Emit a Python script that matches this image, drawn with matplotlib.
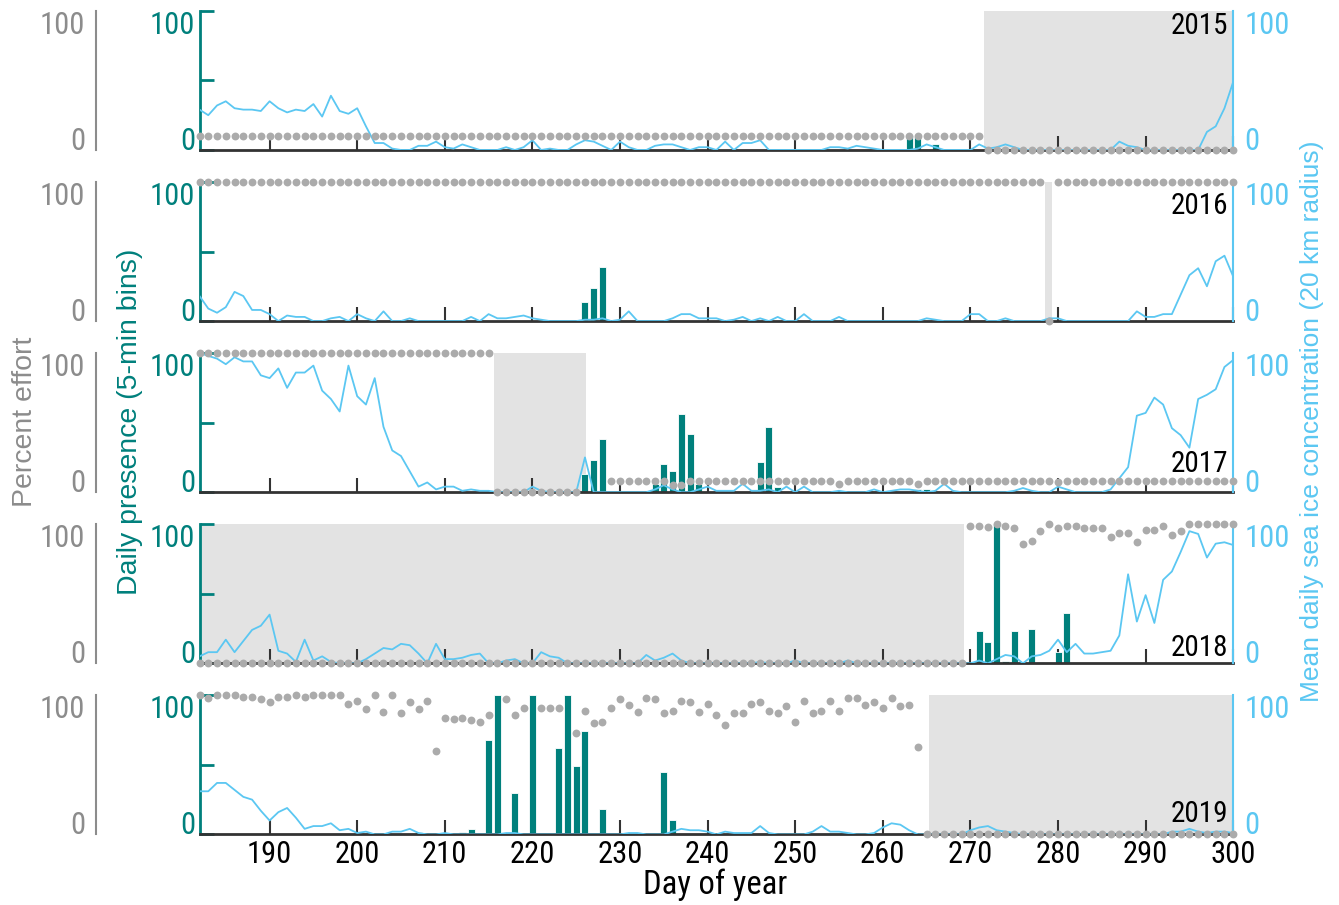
import numpy as np
import matplotlib
matplotlib.use("Agg")
import matplotlib.pyplot as plt
from matplotlib import font_manager

nan = np.nan

# ---------------------------------------------------------------
# dados (dia do ano 182..300)
# ---------------------------------------------------------------
DAYS = np.arange(182, 301)
YEARS = [2015, 2016, 2017, 2018, 2019]

ice_2015 = [29, 25, 32, 35, 30, 29, 29, 28, 35, 30,
            27, 29, 28, 33, 24, 39, 28, 26, 30, 17,
            5, 5, 1, 0, 0, 3, 3, 6, 2, 1,
            4, 2, 0, 0, 0, 2, 0, 2, 7, 0,
            1, 0, 0, 4, 7, 6, 3, 0, 6, 2,
            0, 0, 3, 4, 4, 2, 0, 2, 2, 0,
            6, 0, 5, 5, 7, 0, 0, 0, 0, 0,
            0, 0, 2, 2, 1, 3, 2, 1, 0, 0,
            0, 0, 1, 4, 2, 0, 0, 0, 0, 4,
            1, 2, 4, 2, 0, 0, 0, 0, 0, 0,
            0, 0, 0, 0, 0, 6, 3, 2, 0, 0,
            0, 0, 0, 0, 0, 13, 17, 30, 49]

ice_2016 = [18, 9, 6, 10, 21, 18, 8, 8, 5, 0,
            4, 3, 3, 0, 0, 2, 3, 0, 5, 2,
            0, 7, 0, 0, 2, 0, 0, 0, 0, 0,
            0, 3, 0, 5, 2, 2, 3, 4, 2, 1,
            0, 0, 0, 0, 1, 1, 2, 0, 1, 7,
            0, 0, 0, 0, 2, 5, 5, 2, 2, 2,
            0, 1, 3, 0, 2, 0, 3, 0, 0, 5,
            0, 0, 0, 3, 0, 0, 0, 0, 0, 0,
            0, 0, 0, 2, 1, 0, 0, 0, 5, 5,
            0, 0, 2, 0, 0, 0, 0, 2, 2, 0,
            0, 0, 0, 0, 0, 0, 0, 7, 3, 3,
            5, 5, 19, 33, 38, 25, 43, 47, 32]

ice_2017 = [100, 98, 96, 92, 97, 94, 94, 84, 82, 89,
            75, 86, 86, 91, 73, 67, 58, 91, 69, 63,
            82, 47, 30, 26, 15, 4, 7, 2, 4, 4,
            1, 2, 1, 1, 0, 0, 0, 0, 4, 1,
            0, 0, 0, 0, 25, 0, 0, 0, 0, 0,
            0, 0, 2, 5, 2, 0, 0, 2, 4, 1,
            1, 1, 6, 1, 1, 2, 0, 4, 0, 4,
            0, 0, 0, 1, 0, 0, 0, 2, 0, 1,
            2, 2, 1, 0, 1, 6, 1, 0, 0, 0,
            0, 0, 0, 1, 3, 1, 0, 0, 4, 2,
            0, 0, 0, 0, 2, 10, 18, 55, 57, 68,
            63, 46, 41, 32, 67, 70, 74, 90, 95]

ice_2018 = [5, 8, 8, 17, 8, 16, 24, 27, 35, 9,
            7, 1, 17, 2, 5, 1, 0, 0, 0, 3,
            7, 11, 10, 14, 13, 7, 0, 14, 3, 3,
            4, 6, 7, 0, 0, 2, 3, 0, 0, 8,
            5, 4, 0, 0, 0, 0, 0, 0, 0, 0,
            0, 6, 2, 4, 7, 2, 0, 0, 0, 0,
            0, 0, 0, 0, 1, 0, 0, 0, 2, 0,
            0, 0, 0, 0, 2, 0, 0, 0, 0, 0,
            0, 0, 0, 0, 0, 0, 0, 0, 0, 2,
            0, 3, 6, 5, 0, 5, 6, 9, 17, 8,
            14, 7, 7, 8, 9, 20, 64, 30, 49, 29,
            60, 66, 80, 95, 93, 76, 86, 87, 85]

ice_2019 = [31, 31, 37, 37, 32, 27, 25, 17, 10, 16,
            19, 12, 4, 6, 6, 8, 3, 4, 1, 2,
            0, 0, 2, 2, 4, 1, 0, 0, 1, 0,
            0, 0, 0, 0, 0, 1, 1, 0, 0, 0,
            0, 0, 0, 0, 0, 0, 0, 0, 0, 1,
            1, 0, 0, 0, 2, 4, 3, 3, 2, 0,
            2, 1, 1, 1, 6, 1, 0, 0, 0, 0,
            2, 6, 2, 2, 1, 0, 0, 1, 5, 8,
            7, 3, 0, 0, 0, 0, 0, 0, 3, 5,
            6, 3, 2, 1, 0, 0, 0, 0, 0, 0,
            0, 0, 0, 0, 0, 0, 0, 0, 0, 0,
            0, 2, 2, 4, 2, 1, 2, 2, 1]

eff_2015 = [10, 10, 10, 10, 10, 10, 10, 10, 10, 10,
            10, 10, 10, 10, 10, 10, 10, 10, 10, 10,
            10, 10, 10, 10, 10, 10, 10, 10, 10, 10,
            10, 10, 10, 10, 10, 10, 10, 10, 10, 10,
            10, 10, 10, 10, 10, 10, 10, 10, 10, 10,
            10, 10, 10, 10, 10, 10, 10, 10, 10, 10,
            10, 10, 10, 10, 10, 10, 10, 10, 10, 10,
            10, 10, 10, 10, 10, 10, 10, 10, 10, 10,
            10, 10, 10, 10, 10, 10, 10, 10, 10, 10,
            0, 0, 0, 0, 0, 0, 0, 0, 0, 0,
            0, 0, 0, 0, 0, 0, 0, 0, 0, 0,
            0, 0, 0, 0, 0, 0, 0, 0, 0]

eff_2016 = [100, 100, 100, 100, 100, 100, 100, 100, 100, 100,
            100, 100, 100, 100, 100, 100, 100, 100, 100, 100,
            100, 100, 100, 100, 100, 100, 100, 100, 100, 100,
            100, 100, 100, 100, 100, 100, 100, 100, 100, 100,
            100, 100, 100, 100, 100, 100, 100, 100, 100, 100,
            100, 100, 100, 100, 100, 100, 100, 100, 100, 100,
            100, 100, 100, 100, 100, 100, 100, 100, 100, 100,
            100, 100, 100, 100, 100, 100, 100, 100, 100, 100,
            100, 100, 100, 100, 100, 100, 100, 100, 100, 100,
            100, 100, 100, 100, 100, 100, 100, 0, 100, 100,
            100, 100, 100, 100, 100, 100, 100, 100, 100, 100,
            100, 100, 100, 100, 100, 100, 100, 100, 100]

eff_2017 = [100, 100, 100, 100, 100, 100, 100, 100, 100, 100,
            100, 100, 100, 100, 100, 100, 100, 100, 100, 100,
            100, 100, 100, 100, 100, 100, 100, 100, 100, 100,
            100, 100, 100, 100, 0, 0, 0, 0, 0, 0,
            0, 0, 0, 0, nan, nan, nan, 8, 8, 8,
            8, 8, 8, 8, 5, 5, 8, 8, 8, 8,
            8, 8, 8, 8, 8, 8, 8, 8, 8, 8,
            8, 8, 8, 6, 8, 8, 8, 8, 8, 8,
            8, 8, 6, 8, 8, 8, 8, 8, 8, 8,
            8, 8, 8, 8, 8, 8, 8, 8, 7, 8,
            8, 8, 8, 8, 8, 8, 8, 8, 8, 8,
            8, 8, 8, 8, 8, 8, 8, 8, 8]

eff_2018 = [0, 0, 0, 0, 0, 0, 0, 0, 0, 0,
            0, 0, 0, 0, 0, 0, 0, 0, 0, 0,
            0, 0, 0, 0, 0, 0, 0, 0, 0, 0,
            0, 0, 0, 0, 0, 0, 0, 0, 0, 0,
            0, 0, 0, 0, 0, 0, 0, 0, 0, 0,
            0, 0, 0, 0, 0, 0, 0, 0, 0, 0,
            0, 0, 0, 0, 0, 0, 0, 0, 0, 0,
            0, 0, 0, 0, 0, 0, 0, 0, 0, 0,
            0, 0, 0, 0, 0, 0, 0, 0, 99, 99,
            98, 100, 99, 97, 86, 88, 95, 100, 97, 99,
            99, 97, 97, 97, 91, 94, 94, 87, 96, 96,
            99, 92, 95, 100, 100, 100, 100, 100, 100]

eff_2019 = [100, 98, 100, 100, 100, 99, 99, 97, 95, 99,
            99, 100, 99, 100, 100, 100, 100, 94, 96, 90,
            100, 88, 100, 87, 95, 90, 96, 60, 84, 83,
            84, 82, 81, 86, nan, 97, 86, 91, nan, 91,
            91, 91, nan, 73, 89, 80, 81, 91, 97, 93,
            88, 98, 97, 87, 89, 96, 95, 88, 94, 86,
            79, 87, 87, 94, 95, 89, 87, 92, 81, 96,
            87, 89, 96, 89, 98, 98, 93, 95, 91, 98,
            92, 93, 63, 0, 0, 0, 0, 0, 0, 0,
            0, 0, 0, 0, 0, 0, 0, 0, 0, 0,
            0, 0, 0, 0, 0, 0, 0, 0, 0, 0,
            0, 0, 0, 0, 0, 0, 0, 0, 0]

bar_days_2015 = [263, 264, 266]
bar_vals_2015 = [10, 9, 4]
bar_days_2016 = [226, 227, 228]
bar_vals_2016 = [14, 24, 39]
bar_days_2017 = [226, 227, 228, 234, 235, 236, 237, 238, 239, 246, 247, 248, 264, 265]
bar_vals_2017 = [13, 23, 38, 6, 20, 15, 56, 42, 6, 22, 47, 4, 2, 2]
bar_days_2018 = [271, 272, 273, 274, 275, 277, 278, 280, 281]
bar_vals_2018 = [23, 15, 100, 2, 23, 25, 1, 8, 36]
bar_days_2019 = [192, 207, 212, 213, 215, 216, 218, 220, 223, 224, 225, 226, 228, 235, 236]
bar_vals_2019 = [0.5, 1.5, 1.7, 3.6, 68, 100, 30, 100, 62, 100, 49, 74, 18, 45, 10]

# periodos sem esforco (sombreado)
shade_start = [271.5, 278.55, 215.6, 182, 265.3]
shade_end = [300, 279.35, 226.1, 269.3, 300]

ICE = [ice_2015, ice_2016, ice_2017, ice_2018, ice_2019]
EFF = [eff_2015, eff_2016, eff_2017, eff_2018, eff_2019]
BAR_DAYS = [bar_days_2015, bar_days_2016, bar_days_2017, bar_days_2018, bar_days_2019]
BAR_VALS = [bar_vals_2015, bar_vals_2016, bar_vals_2017, bar_vals_2018, bar_vals_2019]

# ---------------------------------------------------------------
TEAL = "#00807C"
BLUE = "#5BC7F2"
GREY = "#8C8C8C"
DOT = "#ABABAB"
SHADE = "#E3E3E3"
AXC = "#333333"


def fonte_estreita():
    # procura uma fonte estreita (Narrow / Condensed) instalada
    melhor = None
    for f in font_manager.fontManager.ttflist:
        nome = f.name.lower()
        arq = f.fname.lower()
        estreita = ("narrow" in nome or "condensed" in nome or "condensed" in arq
                    or "narrow" in arq or str(f.stretch) in ("condensed", "semi-condensed"))
        if not estreita or f.style != "normal":
            continue
        if str(f.weight) not in ("400", "normal", "regular", "book"):
            continue
        if "mono" in nome or "serif" in nome:
            continue
        nota = 0
        if "liberation" in nome:
            nota = 3
        elif "roboto" in nome or "open" in nome:
            nota = 2
        elif "dejavu" in nome:
            nota = 1
        if melhor is None or nota > melhor[0]:
            melhor = (nota, f)
    if melhor is None:
        return font_manager.FontProperties(family="DejaVu Sans")
    return font_manager.FontProperties(fname=melhor[1].fname)


NARROW = fonte_estreita()


def fp(size):
    p = NARROW.copy()
    p.set_size(size)
    return p


REGULAR = "Liberation Sans"

# posicao do rotulo do ano (eixo, fracao)
YEAR_POS = [0.89, 0.83, 0.20, 0.11, 0.145]


def align_ylabels(axis, side):
    for t, v in zip(axis.get_major_ticks(), axis.get_ticklocs()):
        lab = t.label1 if side == "left" else t.label2
        lab.set_fontproperties(fp(22))
        if v >= 100:
            lab.set_va("top")
        elif v <= 0:
            lab.set_va("baseline")


fig, axes = plt.subplots(5, 1, figsize=(13.39, 9.05), dpi=100, sharex=True,
                         gridspec_kw=dict(hspace=0.23))
fig.subplots_adjust(left=0.149, right=0.921, top=0.988, bottom=0.078)

for i, ax in enumerate(axes):
    ax.axvspan(shade_start[i], shade_end[i], color=SHADE, lw=0, zorder=0)
    ax.bar(BAR_DAYS[i], BAR_VALS[i], width=0.8, color=TEAL,
           edgecolor="white", linewidth=0.6, zorder=2)
    ax.set_xlim(182, 300)
    ax.set_ylim(0, 100)

    # eixo principal: presenca diaria
    for s in ("top", "right"):
        ax.spines[s].set_visible(False)
    ax.spines["left"].set_color(TEAL)
    ax.spines["left"].set_linewidth(2)
    ax.spines["bottom"].set_color(AXC)
    ax.spines["bottom"].set_linewidth(2)
    ax.set_yticks([0, 50, 100])
    ax.set_yticklabels(["0", "", "100"])
    ax.tick_params(axis="y", direction="in", length=10, width=2, color=TEAL,
                   labelcolor=TEAL, pad=3)
    ax.set_xticks(range(190, 301, 10))
    ax.tick_params(axis="x", direction="in", length=10, width=1.5, color=AXC, pad=4)
    for lab in ax.get_xticklabels():
        lab.set_fontproperties(fp(22))
    align_ylabels(ax.yaxis, "left")

    # gelo marinho
    ice_ax = ax.twinx()
    ice_ax.plot(DAYS, ICE[i], color=BLUE, lw=1.3, zorder=3)
    ice_ax.set_ylim(0, 100)
    for s in ("top", "left", "bottom"):
        ice_ax.spines[s].set_visible(False)
    ice_ax.spines["right"].set_color(BLUE)
    ice_ax.spines["right"].set_linewidth(1.5)
    ice_ax.set_yticks([0, 100])
    ice_ax.tick_params(axis="y", length=0, labelcolor=BLUE, pad=8)
    align_ylabels(ice_ax.yaxis, "right")

    # esforco
    eff_ax = ax.twinx()
    eff_ax.scatter(DAYS, EFF[i], s=32, color=DOT, lw=0, clip_on=False, zorder=4)
    eff_ax.set_ylim(0, 100)
    eff_ax.yaxis.tick_left()
    for s in ("top", "right", "bottom"):
        eff_ax.spines[s].set_visible(False)
    eff_ax.spines["left"].set_visible(True)
    eff_ax.spines["left"].set_position(("axes", -0.1))
    eff_ax.spines["left"].set_color(GREY)
    eff_ax.spines["left"].set_linewidth(1.5)
    eff_ax.set_yticks([0, 100])
    eff_ax.tick_params(axis="y", length=0, labelcolor=GREY, pad=8)
    align_ylabels(eff_ax.yaxis, "left")

    ax.text(0.995, YEAR_POS[i], str(YEARS[i]), transform=ax.transAxes,
            ha="right", va="center", fontproperties=fp(21), color="black", zorder=5)

fig.text(0.019, 0.534, "Percent effort", rotation=90, color=GREY,
         fontsize=20.5, family=REGULAR, ha="center", va="center")
fig.text(0.097, 0.534, "Daily presence (5-min bins)", rotation=90, color=TEAL,
         fontsize=20.5, family=REGULAR, ha="center", va="center")
fig.text(0.980, 0.534, "Mean daily sea ice concentration (20 km radius)",
         rotation=90, color=BLUE, fontsize=19, family=REGULAR,
         ha="center", va="center")
fig.text(0.534, 0.022, "Day of year", fontproperties=fp(23.5), ha="center", va="center")

fig.savefig("out.png", dpi=100)
